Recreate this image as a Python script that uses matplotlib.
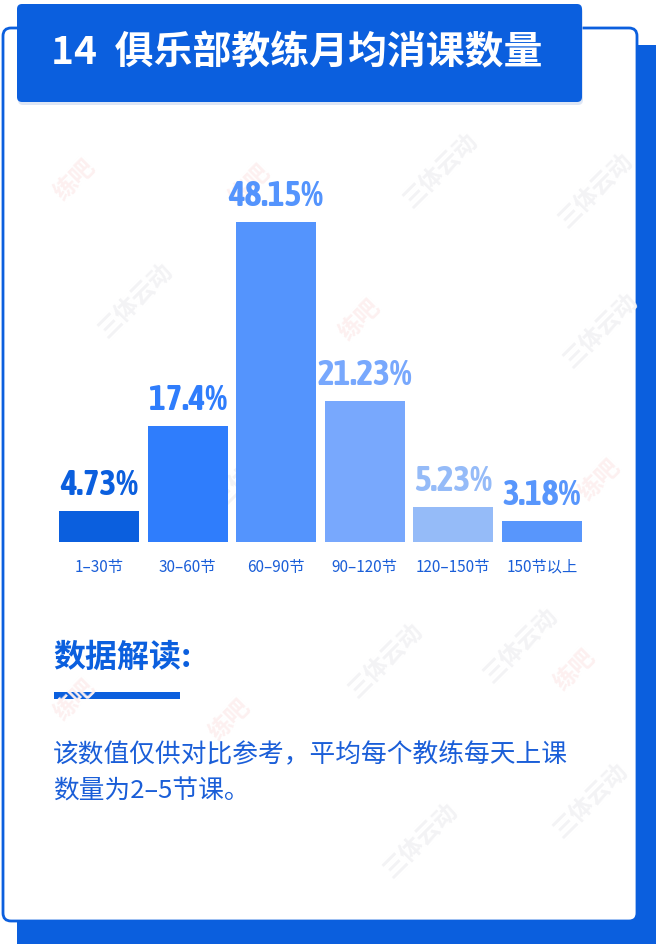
import matplotlib.pyplot as plt
from matplotlib.patches import FancyBboxPatch, Rectangle

plt.rcParams['font.family'] = ['Noto Sans CJK SC', 'DejaVu Sans']

# data
categories = ["1–30节", "30–60节", "60–90节", "90–120节", "120–150节", "150节以上"]
values = [4.73, 17.4, 48.15, 21.23, 5.23, 3.18]
value_labels = ["4.73%", "17.4%", "48.15%", "21.23%", "5.23%", "3.18%"]
bar_colors = ["#0b5fde", "#2f7dfc", "#5494fd", "#78a8fd", "#95bbf8", "#5896fc"]

title = "14  俱乐部教练月均消课数量"
note_head = "数据解读:"
note_lines = ["该数值仅供对比参考，平均每个教练每天上课", "数量为2–5节课。"]

W, H = 656, 944
blue = "#0b5fde"
text_blue = "#1a5ed8"

fig = plt.figure(figsize=(W / 100, H / 100), dpi=100)

# background layer in pixel coords
bg = fig.add_axes([0, 0, 1, 1])
bg.set_xlim(0, W)
bg.set_ylim(H, 0)
bg.axis("off")

bg.add_patch(FancyBboxPatch((17, 45), W - 17 + 20, H - 45 + 20,
                            boxstyle="round,pad=0,rounding_size=9",
                            fc=blue, ec="none"))
bg.add_patch(FancyBboxPatch((3, 28), 634, 893,
                            boxstyle="round,pad=0,rounding_size=8",
                            fc="white", ec=blue, lw=2.0))

# faint watermarks
for (x, y) in [(135, 300), (440, 170), (595, 190), (600, 330), (385, 660),
               (520, 645), (420, 840), (590, 800), (250, 470)]:
    bg.text(x, y, "三体云动", rotation=45, fontsize=17, color="#f3f3f5",
            ha="center", va="center", fontweight="bold")
for (x, y) in [(75, 180), (250, 185), (600, 480), (75, 700), (230, 720),
               (575, 670), (360, 320)]:
    bg.text(x, y, "练吧", rotation=45, fontsize=17, color="#fdf0f0",
            ha="center", va="center", fontweight="bold")

# title box with a soft shadow
bg.add_patch(FancyBboxPatch((18, 7), 565, 98,
                            boxstyle="round,pad=0,rounding_size=5",
                            fc="#c9d6ee", ec="none", alpha=0.6))
bg.add_patch(FancyBboxPatch((17, 4), 565, 98,
                            boxstyle="round,pad=0,rounding_size=5",
                            fc=blue, ec="none"))
bg.text(51, 53, title, color="white", fontsize=28, fontweight="bold",
        ha="left", va="center")

# note section
bg.text(53, 658, note_head, color=blue, fontsize=23, fontweight="bold",
        ha="left", va="center")
bg.add_patch(Rectangle((54, 692), 126, 6.5, fc=blue, ec="none"))
bg.text(53, 755, note_lines[0], color=text_blue, fontsize=18.5,
        ha="left", va="center")
bg.text(53, 792, note_lines[1], color=text_blue, fontsize=18.5,
        ha="left", va="center")

# bar chart
base_px, top_px = 542, 200
px_per_pct = 6.65
ax = fig.add_axes([55 / W, (H - base_px) / H, 531 / W, (base_px - top_px) / H])
ax.patch.set_alpha(0)
x = range(len(categories))
ax.bar(x, values, width=0.904, color=bar_colors, edgecolor="none")
ax.set_xlim(-0.5, len(categories) - 0.5)
ax.set_ylim(0, (base_px - top_px) / px_per_pct)
for i, v in enumerate(values):
    ax.annotate(value_labels[i], (i, v), xytext=(0, 11.5), textcoords="offset points",
                ha="center", va="baseline", fontsize=25.5, fontweight="bold",
                color=bar_colors[i], family=["Asap Condensed", "DejaVu Sans"])
ax.set_xticks(list(x))
ax.set_xticklabels(categories, fontsize=11, color=text_blue)
ax.tick_params(axis="x", length=0, pad=12)
ax.set_yticks([])
for s in ax.spines.values():
    s.set_visible(False)

fig.savefig("out.png", dpi=100)
